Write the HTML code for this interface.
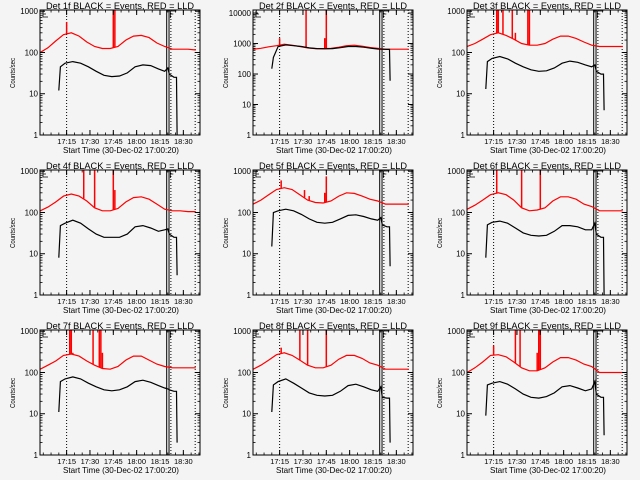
<!DOCTYPE html>
<html><head><meta charset="utf-8"><style>
html,body{margin:0;padding:0;background:#f4f4f4}
svg{display:block}
text{font-family:"Liberation Sans",sans-serif;fill:#000}
</style></head><body>
<svg id="chart" width="640" height="480" viewBox="0 0 640 480" xmlns="http://www.w3.org/2000/svg">
<rect x="0" y="0" width="640" height="480" fill="#f4f4f4"/>
</svg>
<script>
const panelTitles = ["Det 1f BLACK = Events, RED = LLD","Det 2f BLACK = Events, RED = LLD","Det 3f BLACK = Events, RED = LLD","Det 4f BLACK = Events, RED = LLD","Det 5f BLACK = Events, RED = LLD","Det 6f BLACK = Events, RED = LLD","Det 7f BLACK = Events, RED = LLD","Det 8f BLACK = Events, RED = LLD","Det 9f BLACK = Events, RED = LLD"];
const yMaxExp = [3.03,4.1,3.03,3.03,3.03,3.03,3.03,3.03,3.03];
const yTickLabels3 = ["1","10","100","1000"];
const yTickLabels4 = ["1","10","100","1000","10000"];
const xTickMinutes = [15,30,45,60,75,90];
const xTickLabels = ["17:15","17:30","17:45","18:00","18:15","18:30"];
const xMinMinute = -2.1, xMaxMinute = 100.7;
const redTimes = [-2,3,8,13,18,23,28,33,38,43,48,53,58,63,68,73,78,83,88,93,98];
const redValues = [
[100,130,190,270,300,250,180,140,125,125,140,200,250,260,230,170,140,120,120,120,115],
[650,700,780,850,950,880,800,720,680,680,690,760,850,880,820,740,690,650,650,650,650],
[140,165,210,270,300,260,210,165,150,150,165,210,250,250,220,180,150,140,140,140,140],
[110,135,180,250,280,250,190,130,110,110,125,180,230,240,210,160,120,110,110,105,105],
[160,200,270,360,400,360,270,200,175,170,190,250,300,290,250,210,190,160,160,160,160],
[120,150,200,270,300,270,200,130,110,115,130,190,240,240,210,160,140,110,110,110,110],
[120,150,190,260,280,250,190,150,125,120,140,200,250,250,200,160,140,130,130,130,130],
[120,150,200,270,300,260,200,150,130,130,150,210,260,260,220,170,150,120,120,120,120],
[100,130,180,260,270,240,180,130,110,110,130,180,230,230,200,160,140,100,100,100,100]];
const blackTimes = [10,11,14,19,24,29,34,39,44,49,54,59,64,69,74,78,80,81,84,85.6,86];
const blackValues = [
[12,45,55,60,55,45,35,28,26,27,32,45,50,48,40,35,42,30,25,25,1],
[150,350,800,900,850,800,720,680,670,680,730,800,800,760,700,660,650,650,640,640,60],
[13,60,72,80,70,55,45,38,35,36,42,55,62,58,50,45,50,35,30,30,4],
[8,48,55,65,55,40,30,25,25,25,30,45,48,42,35,38,40,30,25,25,3],
[15,100,110,120,110,90,70,58,55,58,70,85,88,80,70,65,75,50,45,45,5],
[8,50,58,62,55,42,32,28,27,28,35,48,48,45,38,38,55,30,25,25,1],
[11,60,70,78,70,55,45,38,36,38,45,60,65,58,48,42,40,38,35,35,2],
[11,50,60,70,55,42,32,28,27,28,35,48,52,45,38,35,45,25,24,24,2],
[9,50,55,60,52,40,30,25,24,26,32,45,48,42,36,40,60,30,25,25,3]];
const spikeTimes = [[15,45,46],[15,32,44,45],[17,18,21,27,29,37,38],[26,33,45,46],[16,31,34,44,45],[17,33,45],[17,18,19,32,36,37,38],[16,28,33,45],[15,29,32,43,44,45]];
const spikeValues = [[550,1300,1300],[1500,13000,1500,13000],[1300,1300,1300,1300,300,1300,1300],[1300,1300,1300,350],[600,350,250,300,750],[1300,1300,1300],[1300,1300,300,1300,1300,1300,300],[400,1300,1300,1300],[450,1300,1300,300,1300,1300]];
const solidLineTimes = [79.3,80.8];
const dottedLineTimes = [15,82,97.6];

const NS = "http://www.w3.org/2000/svg";
const svg = document.getElementById('chart');
function mk(tag, attrs, parent){const e=document.createElementNS(NS,tag);for(const k in attrs)e.setAttribute(k,attrs[k]);(parent||svg).appendChild(e);return e;}

for(let p=0;p<9;p++){
  const ox = Math.round((p%3)*213.33), oy = Math.floor(p/3)*160;
  const L=ox+40, R=ox+200, T=oy+10, B=oy+135;
  const xs = t => L + (t - xMinMinute)/(xMaxMinute - xMinMinute)*(R-L);
  const ys = v => B - Math.log10(v)/yMaxExp[p]*(B-T);
  const g = mk('g',{});
  
  
  const clipId='c'+p;
  const cp=mk('clipPath',{id:clipId},g); mk('rect',{x:L,y:T,width:R-L,height:B-T},cp);
  // title
  const tt=mk('text',{x:ox+120,y:oy+9,'font-size':9.5,'text-anchor':'middle',textLength:148,lengthAdjust:'spacingAndGlyphs'},g);
  tt.textContent=panelTitles[p];
  
  
  // series group
  const sg=mk('g',{'clip-path':'url(#'+clipId+')'},g);
  // vertical lines
  solidLineTimes.forEach(t=>{const l=mk('line',{x1:xs(t),x2:xs(t),y1:T,y2:B,stroke:'#000','stroke-width':1},sg);
    
    });
  dottedLineTimes.forEach(t=>{const l=mk('line',{x1:xs(t),x2:xs(t),y1:T,y2:B,stroke:'#000','stroke-width':1,'stroke-dasharray':'1,2'},sg);
    
    });
  // red series
  const rp=redTimes.map((t,i)=>xs(t).toFixed(1)+','+ys(redValues[p][i]).toFixed(1)).join(' ');
  const rl=mk('polyline',{points:rp,fill:'none',stroke:'#ff0000','stroke-width':1.2},sg);
  
  
  spikeTimes[p].forEach((t,i)=>{
    let k=0; while(k<redTimes.length-2 && redTimes[k+1]<t) k++;
    const f=(t-redTimes[k])/(redTimes[k+1]-redTimes[k]);
    const base=redValues[p][k]*(1-f)+redValues[p][k+1]*f;
    const s=mk('line',{x1:xs(t),x2:xs(t),y1:ys(base),y2:ys(spikeValues[p][i]),stroke:'#ff0000','stroke-width':1.5},sg);
    
    
  });
  const bp=blackTimes.map((t,i)=>xs(t).toFixed(1)+','+ys(blackValues[p][i]).toFixed(1)).join(' ');
  const bl=mk('polyline',{points:bp,fill:'none',stroke:'#000','stroke-width':1.2},sg);
  
  
  // E / F marks
  mk('path',{d:`M${L+3},${T+1}v6M${L+3},${T+7}h5M${L+3},${T+4}h3 M${xs(81)+1},${T+1}v7M${xs(81)+1},${T+1}h6M${xs(81)+1},${T+4}h3M${xs(80.8)-3},${T+1}h4`,stroke:'#000','stroke-width':0.8,fill:'none'},g);
  // frame
  const fr=mk('rect',{x:L,y:T,width:R-L,height:B-T,fill:'none',stroke:'#000','stroke-width':1},g);
  
  
  // y ticks
  const labs = yMaxExp[p]>4?yTickLabels4:yTickLabels3;
  labs.forEach((lab,e)=>{
    const y=ys(Math.pow(10,e));
    mk('line',{x1:L,x2:L+5,y1:y,y2:y,stroke:'#000'},g);
    mk('line',{x1:R,x2:R-5,y1:y,y2:y,stroke:'#000'},g);
    for(let m=2;m<10;m++){const v=Math.pow(10,e)*m; if(Math.log10(v)>yMaxExp[p])break; const yy=ys(v);
      mk('line',{x1:L,x2:L+2.5,y1:yy,y2:yy,stroke:'#000','stroke-width':0.8},g);
      mk('line',{x1:R,x2:R-2.5,y1:yy,y2:yy,stroke:'#000','stroke-width':0.8},g);}
    const t=mk('text',{x:L-2,y:y+3,'font-size':8,'text-anchor':'end'},g);
    t.textContent=lab;
    
    
  });
  // x ticks
  xTickMinutes.forEach((m,i)=>{
    const x=xs(m);
    mk('line',{x1:x,x2:x,y1:B,y2:B-5,stroke:'#000'},g);
    mk('line',{x1:x,x2:x,y1:T,y2:T+5,stroke:'#000'},g);
    const t=mk('text',{x:x,y:B+9,'font-size':7.5,'text-anchor':'middle'},g);
    t.textContent=xTickLabels[i];
    
    
  });
  for(let m=0;m<=100;m+=5){const x=xs(m);
    mk('line',{x1:x,x2:x,y1:B,y2:B-2.5,stroke:'#000','stroke-width':0.8},g);
    mk('line',{x1:x,x2:x,y1:T,y2:T+2.5,stroke:'#000','stroke-width':0.8},g);}
  const xl=mk('text',{x:ox+121,y:oy+153,'font-size':8.5,'text-anchor':'middle',textLength:116,lengthAdjust:'spacingAndGlyphs'},g);
  xl.textContent='Start Time (30-Dec-02 17:00:20)';
  
  
  const yl=mk('text',{x:0,y:0,'font-size':7.5,'text-anchor':'middle',transform:`translate(${ox+15},${oy+73}) rotate(-90)`,textLength:30,lengthAdjust:'spacingAndGlyphs'},g);
  yl.textContent='Counts/sec';
  
  
}
</script>
</body></html>
